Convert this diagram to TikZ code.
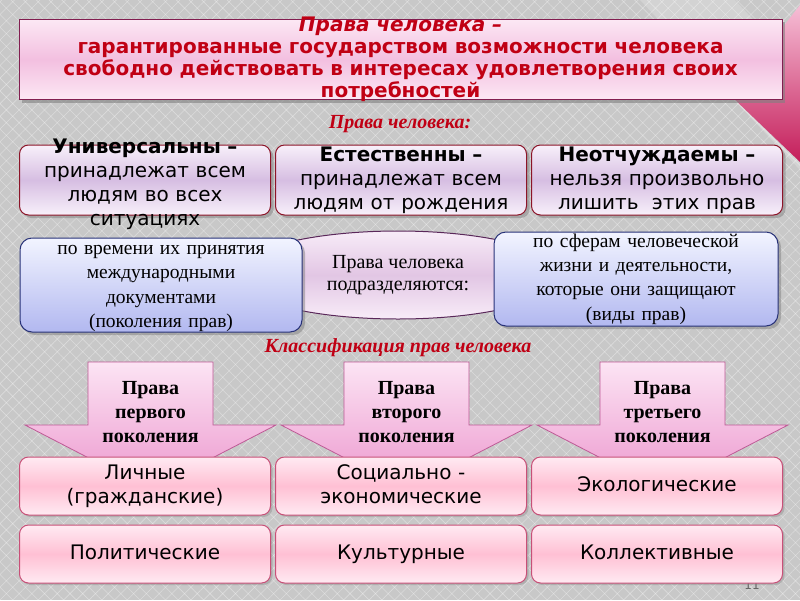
\documentclass[tikz,border=0pt]{standalone}
\usepackage{fontspec}
\setmainfont{Liberation Serif}
\setsansfont{DejaVu Sans}
\usepackage{xcolor}
\usepackage{tikz}
\usetikzlibrary{shapes.geometric, shadows, patterns.meta}

\definecolor{bgGray}{RGB}{200,200,200}
\definecolor{titleRed}{RGB}{192,0,20}
\definecolor{titleLine}{RGB}{130,30,80}
\definecolor{titleTop}{RGB}{252,232,244}
\definecolor{titleMid}{RGB}{243,192,224}
\definecolor{featLine}{RGB}{140,20,40}
\definecolor{featTop}{RGB}{248,240,250}
\definecolor{featMid}{RGB}{214,190,226}
\definecolor{blueLine}{RGB}{40,50,120}
\definecolor{blueTop}{RGB}{242,244,255}
\definecolor{blueBot}{RGB}{178,184,240}
\definecolor{ovalLine}{RGB}{90,40,90}
\definecolor{ovalTop}{RGB}{248,236,248}
\definecolor{ovalMid}{RGB}{226,198,228}
\definecolor{arrowLine}{RGB}{190,90,150}
\definecolor{arrowTop}{RGB}{252,228,244}
\definecolor{arrowBot}{RGB}{236,150,205}
\definecolor{kindLine}{RGB}{200,80,120}
\definecolor{kindTop}{RGB}{255,234,242}
\definecolor{kindMid}{RGB}{255,192,212}
\definecolor{cornerLight}{RGB}{246,190,214}
\definecolor{cornerDark}{RGB}{196,30,90}

\begin{document}
\begin{tikzpicture}[x=1pt, y=-1pt, node distance=256pt]
\tikzstyle{titlebox} = [rectangle, execute at begin node={\rule{0pt}{15pt}}, draw=titleLine, line width=1pt, top color=titleTop, bottom color=titleTop, middle color=titleMid, minimum width=763pt, text width=755pt, inner xsep=2pt, inner ysep=-2.5pt, align=center, text=titleRed, font=\sffamily\bfseries\fontsize{20}{22}\selectfont, drop shadow={shadow xshift=3pt, shadow yshift=-3pt, opacity=0.6}]
\tikzstyle{redlabel} = [text=titleRed, font=\bfseries\itshape\fontsize{20}{22}\selectfont]
\tikzstyle{featbox} = [rectangle, execute at begin node={\rule{0pt}{16pt}}, rounded corners=9pt, draw=featLine, line width=1pt, top color=featTop, bottom color=featTop, middle color=featMid, minimum width=251pt, minimum height=70pt, text width=245pt, inner xsep=2pt, inner ysep=0.5pt, align=center, font=\sffamily\fontsize{20}{24}\selectfont, drop shadow={shadow xshift=3pt, shadow yshift=-3pt, opacity=0.5}]
\tikzstyle{bluebox} = [rectangle, rounded corners=12pt, draw=blueLine, line width=1pt, top color=blueTop, bottom color=blueBot, minimum height=94pt, inner xsep=2pt, inner ysep=-4pt, align=center, font=\fontsize{19.5}{24.3}\selectfont, drop shadow={shadow xshift=3pt, shadow yshift=-3pt, opacity=0.5}]
\tikzstyle{oval} = [ellipse, execute at begin node={\rule{0pt}{27pt}}, draw=ovalLine, line width=1pt, top color=ovalTop, bottom color=ovalTop, middle color=ovalMid, minimum width=330pt, minimum height=88pt, inner sep=0pt, align=center, font=\fontsize{20}{22}\selectfont]
\tikzstyle{genarrow} = [draw=arrowLine, line width=0.8pt, top color=arrowTop, bottom color=arrowBot]
\tikzstyle{gentext} = [align=center, font=\bfseries\fontsize{20}{24}\selectfont]
\tikzstyle{kindbox} = [rectangle, execute at begin node={\rule{0pt}{15pt}}, execute at end node={\rule[-5pt]{0pt}{5pt}}, rounded corners=9pt, draw=kindLine, line width=1pt, top color=kindTop, bottom color=kindTop, middle color=kindMid, minimum width=251pt, minimum height=58pt, text width=245pt, inner sep=2pt, align=center, font=\sffamily\fontsize{20}{24}\selectfont, drop shadow={shadow xshift=2pt, shadow yshift=-2pt, opacity=0.35}]

\useasboundingbox (0,0) rectangle (800,600);

% background
\fill[bgGray] (0,0) rectangle (800,600);
\fill[pattern={Lines[angle=45, distance=9pt, line width=0.6pt]}, pattern color=white, opacity=0.35] (0,0) rectangle (800,600);
\fill[pattern={Lines[angle=-45, distance=9pt, line width=0.6pt]}, pattern color=white, opacity=0.35] (0,0) rectangle (800,600);
\fill[white, opacity=0.2] (640,0) -- (735,0) -- (800,70) -- (800,170) -- cycle;
\shade[top color=cornerLight, bottom color=cornerDark] (730,95) -- (800,5) -- (800,162) -- cycle;

% definition
\node (title) [titlebox] at (400.5,59.5) {\textit{Права человека –}\\гарантированные государством возможности человека\\свободно действовать в интересах удовлетворения своих\\потребностей};
\node (features) [redlabel] at (400,124) {Права человека:};

% features
\node (universal) [featbox, execute at begin node={\rule{0pt}{22.6pt}}, inner ysep=-14.6pt] at (145,180) {\textbf{Универсальны –}\\принадлежат всем\\людям во всех\\ситуациях};
\node (natural) [featbox, right of=universal] {\textbf{Естественны –}\\принадлежат всем\\людям от рождения};
\node (inalienable) [featbox, right of=natural] {\textbf{Неотчуждаемы –}\\нельзя произвольно\\лишить~ этих прав};

% division
\node (divide) [oval] at (398,275) {Права человека\\подразделяются:};
\node (byTime) [bluebox, execute at begin node={\rule{0pt}{16pt}}, minimum width=282pt, text width=276pt] at (161,285) {по времени их принятия\\международными\\документами\\(поколения прав)};
\node (bySphere) [bluebox, minimum width=284pt, text width=278pt] at (636,279) {по сферам человеческой\\жизни и деятельности,\\которые они защищают\\(виды прав)};
\node (classes) [redlabel] at (398,348) {Классификация прав человека};

% generations
\draw[genarrow] (88,362) -- (213,362) -- (213,425) -- (276,425) -- (150.5,490) -- (25,425) -- (88,425) -- cycle;
\draw[genarrow, xshift=256pt] (88,362) -- (213,362) -- (213,425) -- (276,425) -- (150.5,490) -- (25,425) -- (88,425) -- cycle;
\draw[genarrow, xshift=512pt] (88,362) -- (213,362) -- (213,425) -- (276,425) -- (150.5,490) -- (25,425) -- (88,425) -- cycle;
\node (genFirst) [gentext] at (150.5,412) {Права\\первого\\поколения};
\node (genSecond) [gentext, right of=genFirst] {Права\\второго\\поколения};
\node (genThird) [gentext, right of=genSecond] {Права\\третьего\\поколения};

\node (pageNum) [text=black!60, font=\sffamily\fontsize{12}{14}\selectfont] at (752,585) {11};

% kinds
\node (personal) [kindbox] at (145,486) {Личные\\(гражданские)};
\node (social) [kindbox, right of=personal] {Социально -\\экономические};
\node (ecology) [kindbox, right of=social] {Экологические};
\node (political) [kindbox] at (145,554) {Политические};
\node (cultural) [kindbox, right of=political] {Культурные};
\node (collective) [kindbox, right of=cultural] {Коллективные};

\end{tikzpicture}
\end{document}
